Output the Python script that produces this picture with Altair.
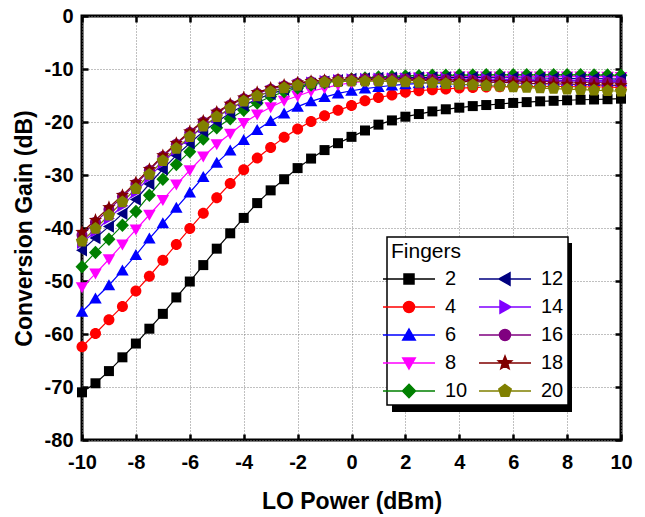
import math
import altair as alt
import pandas as pd

# ---------------- data ----------------
lo_power = [-10, -9.5, -9, -8.5, -8, -7.5, -7, -6.5, -6, -5.5, -5, -4.5, -4, -3.5, -3, -2.5, -2, -1.5, -1, -0.5,
            0, 0.5, 1, 1.5, 2, 2.5, 3, 3.5, 4, 4.5, 5, 5.5, 6, 6.5, 7, 7.5, 8, 8.5, 9, 9.5, 10]

fingers = ["2", "4", "6", "8", "10", "12", "14", "16", "18", "20"]

gain_2 = [-71.0, -69.3, -67.0, -64.4, -61.8, -59.0, -56.2, -53.1, -50.1, -47.0, -43.9, -41.0, -38.1, -35.3, -32.9,
          -30.8, -28.7, -26.9, -25.3, -24.0, -22.8, -21.6, -20.5, -19.7, -19.0, -18.5, -18.0, -17.6, -17.3, -17.0,
          -16.8, -16.6, -16.4, -16.25, -16.1, -16.0, -15.9, -15.8, -15.75, -15.7, -15.6]
gain_4 = [-62.4, -59.9, -57.3, -54.8, -51.9, -49.1, -46.1, -43.1, -40.1, -37.2, -34.3, -31.6, -29.0, -26.8, -24.8,
          -22.9, -21.3, -19.9, -18.8, -17.8, -16.9, -16.0, -15.4, -14.9, -14.4, -14.1, -13.9, -13.75, -13.6, -13.5,
          -13.4, -13.35, -13.3, -13.3, -13.3, -13.3, -13.3, -13.35, -13.4, -13.4, -13.5]
gain_6 = [-55.8, -53.3, -50.8, -48.0, -45.1, -42.0, -39.1, -36.2, -33.3, -30.4, -27.7, -25.4, -23.4, -21.5, -19.8,
          -18.4, -17.1, -16.1, -15.3, -14.6, -14.1, -13.7, -13.4, -13.1, -12.9, -12.7, -12.55, -12.45, -12.35, -12.3,
          -12.25, -12.2, -12.2, -12.2, -12.2, -12.2, -12.2, -12.25, -12.25, -12.3, -12.3]
gain_8 = [-51.2, -48.6, -45.9, -43.1, -40.3, -37.5, -34.7, -31.8, -29.1, -26.5, -24.2, -22.2, -20.2, -18.6, -17.2,
          -16.0, -15.1, -14.2, -13.6, -13.0, -12.6, -12.3, -12.0, -11.8, -11.7, -11.6, -11.5, -11.45, -11.4, -11.4,
          -11.4, -11.4, -11.4, -11.4, -11.4, -11.4, -11.4, -11.4, -11.45, -11.45, -11.5]
gain_10 = [-47.3, -44.6, -42.1, -39.5, -36.9, -33.8, -30.8, -28.0, -25.6, -23.2, -21.1, -19.4, -17.8, -16.4, -15.2,
           -14.3, -13.6, -13.0, -12.6, -12.2, -11.9, -11.7, -11.5, -11.4, -11.3, -11.25, -11.2, -11.2, -11.15, -11.15,
           -11.1, -11.1, -11.1, -11.1, -11.1, -11.1, -11.1, -11.1, -11.15, -11.15, -11.2]
gain_12 = [-44.2, -41.9, -39.7, -37.3, -34.6, -31.7, -28.9, -26.3, -24.0, -21.8, -20.0, -18.3, -16.9, -15.7, -14.7,
           -13.9, -13.3, -12.8, -12.4, -12.1, -11.9, -11.8, -11.7, -11.65, -11.6, -11.6, -11.6, -11.6, -11.6, -11.6,
           -11.6, -11.65, -11.65, -11.7, -11.7, -11.75, -11.75, -11.8, -11.8, -11.85, -11.9]
gain_14 = [-42.8, -40.6, -38.2, -35.8, -33.2, -30.4, -27.7, -25.2, -23.0, -20.9, -19.1, -17.5, -16.2, -15.1, -14.2,
           -13.5, -13.0, -12.6, -12.3, -12.1, -12.0, -11.9, -11.85, -11.8, -11.8, -11.8, -11.8, -11.85, -11.85, -11.9,
           -11.9, -11.95, -12.0, -12.0, -12.05, -12.1, -12.1, -12.15, -12.2, -12.2, -12.25]
gain_16 = [-41.3, -38.9, -36.5, -34.1, -31.7, -29.1, -26.5, -24.2, -22.0, -20.0, -18.3, -16.8, -15.6, -14.6, -13.8,
           -13.2, -12.7, -12.4, -12.2, -12.0, -11.95, -11.9, -11.9, -11.9, -11.95, -12.0, -12.0, -12.05, -12.1, -12.15,
           -12.2, -12.25, -12.3, -12.3, -12.35, -12.4, -12.45, -12.5, -12.5, -12.55, -12.6]
gain_18 = [-40.8, -38.5, -36.1, -33.8, -31.4, -28.9, -26.3, -24.0, -21.8, -19.8, -18.1, -16.6, -15.4, -14.4, -13.6,
           -13.0, -12.6, -12.3, -12.1, -12.0, -11.95, -11.95, -12.0, -12.05, -12.1, -12.15, -12.2, -12.3, -12.35, -12.4,
           -12.5, -12.55, -12.6, -12.7, -12.75, -12.8, -12.85, -12.9, -13.0, -13.05, -13.1]
gain_20 = [-42.5, -40.1, -37.6, -35.1, -32.6, -29.9, -27.3, -25.0, -22.8, -20.8, -19.0, -17.4, -16.1, -15.1, -14.3,
           -13.6, -13.1, -12.7, -12.5, -12.4, -12.3, -12.3, -12.3, -12.35, -12.45, -12.55, -12.65, -12.8, -12.9, -13.0,
           -13.15, -13.25, -13.4, -13.5, -13.6, -13.7, -13.8, -13.9, -14.0, -14.1, -14.2]

series_values = [gain_2, gain_4, gain_6, gain_8, gain_10, gain_12, gain_14, gain_16, gain_18, gain_20]

x_ticks = [-10, -8, -6, -4, -2, 0, 2, 4, 6, 8, 10]
y_ticks = [-80, -70, -60, -50, -40, -30, -20, -10, 0]

# ---------------- styles ----------------
colors = ["#000000", "#ff0000", "#0000ff", "#ff00ff", "#008000",
          "#000080", "#8000ff", "#800080", "#800000", "#808000"]


def poly_path(points):
    return "M" + "L".join(f"{px:.3f},{py:.3f}" for px, py in points) + "Z"


def star_path(r_out, r_in):
    pts = []
    for k in range(10):
        r = r_out if k % 2 == 0 else r_in
        a = -math.pi / 2 + k * math.pi / 5
        pts.append((r * math.cos(a), r * math.sin(a)))
    return poly_path(pts)


def pentagon_path(r):
    pts = []
    for k in range(5):
        a = -math.pi / 2 + k * 2 * math.pi / 5
        pts.append((r * math.cos(a), r * math.sin(a)))
    return poly_path(pts)


square = "M-1,-1H1V1H-1Z"
circle = "M1.1,0A1.1,1.1,0,1,1,-1.1,0A1.1,1.1,0,1,1,1.1,0Z"
tri_up = "M0,-1.2L1.25,1L-1.25,1Z"
tri_down = "M0,1.2L1.25,-1L-1.25,-1Z"
diamond = "M0,-1.35L1.3,0L0,1.35L-1.3,0Z"
tri_left = "M-1.2,0L1,-1.25L1,1.25Z"
tri_right = "M1.2,0L-1,-1.25L-1,1.25Z"
star = star_path(1.4, 0.6)
pentagon = pentagon_path(1.3)

plot_shapes = [square, circle, tri_up, tri_down, diamond, tri_left, tri_right, circle, star, pentagon]
legend_line = "M-5.2,0H5.2"
legend_shapes = [legend_line + s for s in plot_shapes]

rows = []
for f, vals in zip(fingers, series_values):
    for xv, yv in zip(lo_power, vals):
        rows.append({"lo": xv, "gain": yv, "fingers": f})
df = pd.DataFrame(rows)

FONT = "Liberation Sans"
xscale = alt.Scale(domain=[-10, 10], nice=False, zero=False)
yscale = alt.Scale(domain=[-80, 0], nice=False, zero=False)
label_expr = "toString(datum.value)"

x_main = alt.Axis(values=x_ticks, orient="bottom", offset=-6, tickSize=6, tickWidth=2.5, tickColor="black",
                  domain=False, grid=True, gridColor="#808080", gridDash=[1, 2], gridWidth=1,
                  labelExpr=label_expr, labelFont=FONT, labelFontSize=20, labelFontWeight="bold",
                  labelColor="black", labelPadding=12, labelFlush=False, title="LO Power (dBm)", titleFont=FONT,
                  titleFontSize=23, titleFontWeight="bold", titleColor="black", titlePadding=18)
y_main = alt.Axis(values=y_ticks, orient="left", offset=-6, tickSize=6, tickWidth=2.5, tickColor="black",
                  domain=False, grid=True, gridColor="#808080", gridDash=[1, 2], gridWidth=1,
                  labelExpr=label_expr, labelFont=FONT, labelFontSize=20, labelFontWeight="bold",
                  labelColor="black", labelPadding=9, labelFlush=False, title="Conversion Gain (dB)", titleFont=FONT,
                  titleFontSize=23, titleFontWeight="bold", titleColor="black", titlePadding=8)
x_top = alt.Axis(values=x_ticks, orient="top", offset=-6, tickSize=6, tickWidth=2.5, tickColor="black",
                 domain=False, grid=False, labels=False, title=None)
y_right = alt.Axis(values=y_ticks, orient="right", offset=-6, tickSize=6, tickWidth=2.5, tickColor="black",
                   domain=False, grid=False, labels=False, title=None)

color_enc = alt.Color("fingers:N", scale=alt.Scale(domain=fingers, range=colors), legend=None)

base = alt.Chart(df)

lines = base.mark_line(strokeWidth=1.2).encode(
    x=alt.X("lo:Q", scale=xscale, axis=x_main),
    y=alt.Y("gain:Q", scale=yscale, axis=y_main),
    color=color_enc,
    detail="fingers:N",
)

points = base.mark_point(filled=True, size=100, opacity=1).encode(
    x=alt.X("lo:Q", scale=xscale, axis=None),
    y=alt.Y("gain:Q", scale=yscale, axis=None),
    color=color_enc,
    shape=alt.Shape("fingers:N", scale=alt.Scale(domain=fingers, range=plot_shapes), legend=None),
)

leg = alt.Legend(title="Fingers", orient="none", legendX=305, legendY=221, columns=2,
                 titleFont=FONT, titleFontSize=21, titleFontWeight="normal", titleColor="black",
                 labelFont=FONT, labelFontSize=20, labelColor="black",
                 labelExpr="toNumber(datum.value) > 10 ? datum.label + ' ' : datum.label",
                 symbolSize=100, symbolStrokeWidth=1.5, symbolOffset=8, labelOffset=26,
                 rowPadding=8, columnPadding=8, padding=4, titlePadding=7,
                 fillColor="white", strokeColor="black")

legend_layer = base.transform_filter("false").mark_point(filled=True, size=100, opacity=1).encode(
    x=alt.X("lo:Q", scale=xscale, axis=x_top),
    y=alt.Y("gain:Q", scale=yscale, axis=y_right),
    fill=alt.Fill("fingers:N", scale=alt.Scale(domain=fingers, range=colors), legend=leg),
    stroke=alt.Stroke("fingers:N", scale=alt.Scale(domain=fingers, range=colors), legend=leg),
    shape=alt.Shape("fingers:N", scale=alt.Scale(domain=fingers, range=legend_shapes), legend=leg),
)

shadow = alt.Chart(pd.DataFrame({"k": [0]})).mark_rect(color="black").encode(
    x=alt.value(310), x2=alt.value(490), y=alt.value(227), y2=alt.value(396)
)

chart = alt.layer(shadow, lines, points, legend_layer).resolve_scale(
    shape="independent", fill="independent", stroke="independent"
).resolve_axis(
    x="independent", y="independent"
).properties(
    width=539, height=424,
    autosize=alt.AutoSizeParams(type="none"),
    padding={"left": 74, "top": 8, "right": 16, "bottom": 78},
).configure_view(
    stroke="black", strokeWidth=3
).configure_legend(
    strokeWidth=1.5
)

chart.save("out.html", embed_options={"renderer": "svg", "actions": False})
